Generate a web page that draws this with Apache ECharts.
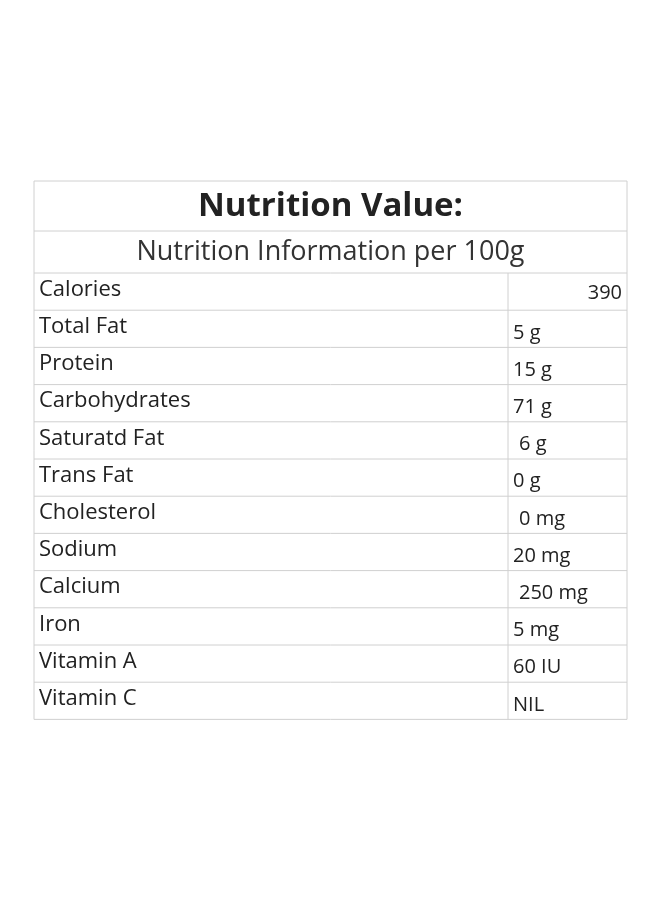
<!DOCTYPE html>
<html><head><meta charset="utf-8">
<script src="https://cdn.jsdelivr.net/npm/echarts@6/dist/echarts.min.js"></script>
<style>html,body{margin:0;padding:0;background:#fff}#c{width:660px;height:900px}</style>
</head><body><div id="c"></div>
<script>
const title = "Nutrition Value:";
const subtitle = "Nutrition Information per 100g";
const nutrients = ["Calories","Total Fat","Protein","Carbohydrates","Saturatd Fat","Trans Fat","Cholesterol","Sodium","Calcium","Iron","Vitamin A","Vitamin C"];
const amounts = ["390","5 g","15 g","71 g","6 g","0 g","0 mg","20 mg","250 mg","5 mg","60 IU","NIL"];
const indent = [0,0,0,0,6,0,6,0,6,0,0,0];

const chart = echarts.init(document.getElementById('c'));
const L=34,R=627,T=181,colX=508,titleH=50,subH=42,rowH=37.2;
const line='#d0d0d0', txt='#222', font='"Open Sans", sans-serif';
const els=[];
const bottom=T+titleH+subH+rowH*nutrients.length;
els.push({type:'rect',shape:{x:L,y:T,width:R-L,height:bottom-T},style:{fill:'#fff',stroke:line,lineWidth:1}});
els.push({type:'line',shape:{x1:L,y1:T+titleH,x2:R,y2:T+titleH},style:{stroke:line}});
const y0=T+titleH+subH;
els.push({type:'line',shape:{x1:L,y1:y0,x2:R,y2:y0},style:{stroke:line}});
els.push({type:'line',shape:{x1:colX,y1:y0,x2:colX,y2:bottom},style:{stroke:line}});
els.push({type:'text',x:(L+R)/2,y:T+titleH/2+1,style:{text:title,fill:txt,font:'bold 33px '+font,align:'center',verticalAlign:'middle'}});
els.push({type:'text',x:(L+R)/2,y:T+titleH+subH/2,style:{text:subtitle,fill:'#333',font:'27px '+font,align:'center',verticalAlign:'middle'}});
nutrients.forEach((n,i)=>{
  const y=y0+rowH*i;
  if(i>0) els.push({type:'line',shape:{x1:L,y1:y,x2:R,y2:y},style:{stroke:line}});
  els.push({type:'text',x:L+5,y:y+rowH/2-2,style:{text:n,fill:txt,font:'22px '+font,verticalAlign:'middle'}});
  const right=i===0;
  els.push({type:'text',x:right?R-5:colX+5+indent[i],y:y+rowH/2+(right?2:4),style:{text:amounts[i],fill:txt,font:'20px '+font,align:right?'right':'left',verticalAlign:'middle'}});
});
chart.setOption({animation:false,graphic:{elements:els}});
</script></body></html>
